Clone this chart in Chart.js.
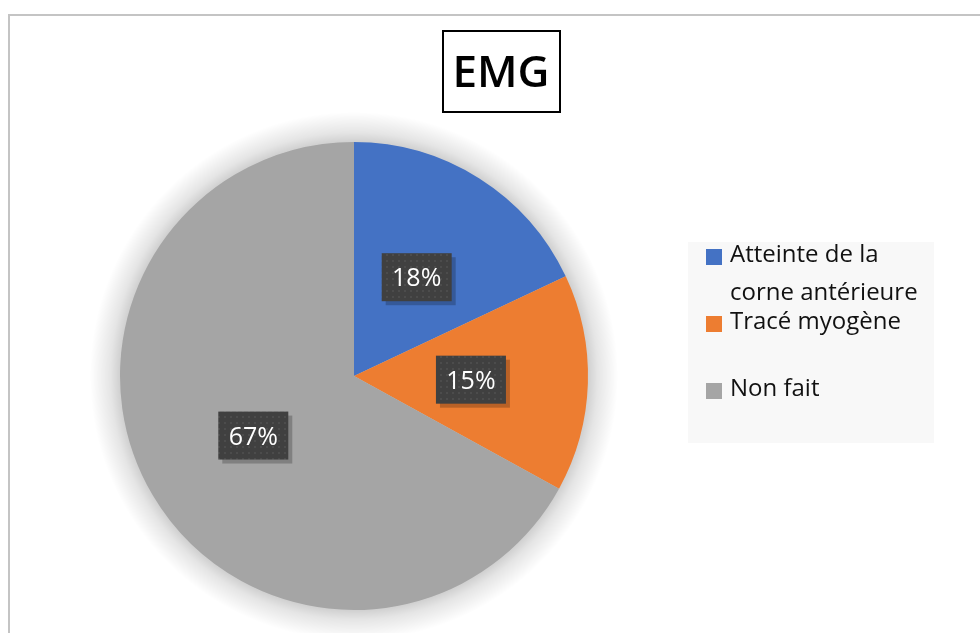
<!DOCTYPE html>
<html>
<head>
<meta charset="utf-8">
<script src="https://cdn.jsdelivr.net/npm/chart.js@4"></script>
<style>
  body { margin: 0; background: #fff; }
  #wrap { width: 980px; height: 633px; position: relative; }
</style>
</head>
<body>
<div id="wrap"><canvas id="chartContainer" width="980" height="633"></canvas></div>
<script>
// donnees
const titre = "EMG";
const categories = [["Atteinte de la", "corne antérieure"], ["Tracé myogène"], ["Non fait"]];
const valeurs = [18, 15, 67];
const couleurs = ["#4472C4", "#ED7D31", "#A5A5A5"];

// motif pointillé des étiquettes
function makePattern(ctx) {
	let c = document.createElement("canvas");
	c.width = 6; c.height = 6;
	let p = c.getContext("2d");
	p.fillStyle = "#404040";
	p.fillRect(0, 0, 6, 6);
	p.fillStyle = "#4c4c4c";
	p.fillRect(2, 2, 2, 2);
	return ctx.createPattern(c, "repeat");
}

const decor = {
	id: "decor",
	beforeDatasetsDraw(chart) {
		let ctx = chart.ctx;
		let arc = chart.getDatasetMeta(0).data[0];
		let r = arc.outerRadius;
		// ombre douce autour du camembert
		ctx.save();
		let g = ctx.createRadialGradient(arc.x, arc.y, r - 4, arc.x, arc.y, r + 30);
		g.addColorStop(0, "rgba(0,0,0,0.22)");
		g.addColorStop(0.4, "rgba(0,0,0,0.10)");
		g.addColorStop(1, "rgba(0,0,0,0)");
		ctx.fillStyle = g;
		ctx.beginPath();
		ctx.arc(arc.x, arc.y, r + 30, 0, Math.PI * 2);
		ctx.fill();
		ctx.restore();
	},
	afterDraw(chart) {
		let ctx = chart.ctx;
		ctx.save();
		// cadre exterieur
		ctx.strokeStyle = "#c4c4c4";
		ctx.lineWidth = 2;
		ctx.beginPath();
		ctx.moveTo(9, 640);
		ctx.lineTo(9, 15);
		ctx.lineTo(990, 15);
		ctx.stroke();

		// titre encadre
		ctx.strokeStyle = "#000";
		ctx.lineWidth = 2;
		ctx.strokeRect(443, 31, 117, 81);
		ctx.fillStyle = "#000";
		ctx.font = "600 44px 'Open Sans'";
		ctx.textAlign = "center";
		ctx.textBaseline = "alphabetic";
		ctx.fillText(titre, 501, 87);

		// etiquettes de donnees
		let meta = chart.getDatasetMeta(0);
		let pat = makePattern(ctx);
		meta.data.forEach(function (a, i) {
			let pt = a.tooltipPosition();
			let w = 70, h = 48;
			let x = pt.x - w / 2, y = pt.y - h / 2;
			ctx.fillStyle = "rgba(0,0,0,0.22)";
			ctx.fillRect(x + 4, y + 4, w, h);
			ctx.fillStyle = pat;
			ctx.fillRect(x, y, w, h);
			ctx.fillStyle = "#fff";
			ctx.font = "500 25px 'Open Sans'";
			ctx.textAlign = "center";
			ctx.textBaseline = "alphabetic";
			ctx.fillText(valeurs[i] + "%", pt.x, pt.y + 9);
		});

		// legende
		ctx.fillStyle = "#f8f8f8";
		ctx.fillRect(688, 242, 246, 201);
		let rows = [262, 329, 396];
		ctx.font = "24px 'Open Sans'";
		ctx.textAlign = "left";
		ctx.textBaseline = "alphabetic";
		categories.forEach(function (lab, i) {
			ctx.fillStyle = couleurs[i];
			ctx.fillRect(706, rows[i] - 13, 16, 16);
			ctx.fillStyle = "#111";
			lab.forEach(function (l, j) {
				ctx.fillText(l, 730, rows[i] + j * 38);
			});
		});
		ctx.restore();
	}
};

window.onload = function () {
	let ctx = document.getElementById("chartContainer");
	new Chart(ctx, {
		type: "pie",
		data: {
			labels: categories.map(function (c) { return c.join(" "); }),
			datasets: [{
				data: valeurs,
				backgroundColor: couleurs,
				borderWidth: 0
			}]
		},
		options: {
			responsive: false,
			animation: false,
			layout: { padding: { left: 120, top: 142, right: 392, bottom: 23 } },
			plugins: {
				legend: { display: false },
				tooltip: { enabled: false }
			}
		},
		plugins: [decor]
	});
};
</script>
</body>
</html>
